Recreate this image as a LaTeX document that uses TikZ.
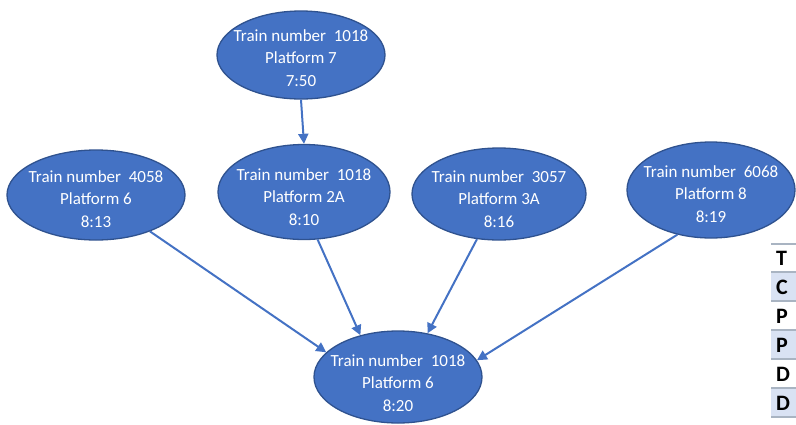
\documentclass[tikz,border=0pt]{standalone}
\usepackage{fontspec}
\setmainfont{Carlito}
\usetikzlibrary{shapes.geometric,arrows.meta,calc}
\definecolor{nodefill}{HTML}{4472C4}
\definecolor{nodeedge}{HTML}{2F528F}
\definecolor{rowfill}{HTML}{D9E2F3}
\definecolor{rowline}{HTML}{A9B4C2}
\tikzset{
  station/.style={ellipse, fill=nodefill, draw=nodeedge, line width=1.3pt, inner sep=0pt},
  info/.style={text=white, align=center, font=\fontsize{17}{22.5}\selectfont},
  link/.style={draw=nodefill, line width=2pt, -{Triangle[length=10pt,width=10pt]}},
  cell/.style={anchor=west, inner sep=0pt, font=\fontsize{22}{24}\selectfont\bfseries},
}
\begin{document}
\begin{tikzpicture}[x=1pt,y=-1pt]
\useasboundingbox (0,0) rectangle (796,424);
\begin{scope}
\clip (0,0) rectangle (796,424);

% stations
\node[station, minimum width=168, minimum height=88,
  label={[info,yshift=-3pt]center:Train number\ \ 1018\\Platform 7\\7:50}] (t1018a) at (301,55) {};
\node[station, minimum width=178, minimum height=90,
  label={[info,yshift=-4pt]center:Train number\ \ 4058\\Platform 6\\8:13}] (t4058) at (96,195) {};
\node[station, minimum width=172, minimum height=95,
  label={[info,yshift=-5pt]center:Train number\ \ 1018\\Platform 2A\\8:10}] (t1018b) at (304,192) {};
\node[station, minimum width=174, minimum height=92,
  label={[info,yshift=-5pt]center:Train number\ \ 3057\\Platform 3A\\8:16}] (t3057) at (499,194) {};
\node[station, minimum width=168, minimum height=96,
  label={[info,yshift=-4pt]center:Train number\ \ 6068\\Platform 8\\8:19}] (t6068) at (711,190) {};
\node[station, minimum width=168, minimum height=92,
  label={[info,yshift=-6pt]center:Train number\ \ 1018\\Platform 6\\8:20}] (t1018c) at (398,377) {};

% connections
\draw[link] (t1018a.south) -- (t1018b.north);
\draw[link] (t4058.-34) -- (t1018c.161);
\draw[link] (t1018b.-74) -- (t1018c.132);
\draw[link] (t3057.-116) -- (t1018c.56);
\draw[link] (t6068.-127) -- (t1018c.12);

% table at the right edge
\fill[rowfill] (771,272) rectangle (800,301);
\fill[rowfill] (771,330) rectangle (800,359);
\fill[rowfill] (771,388) rectangle (800,417);
\foreach \y in {244,272,301,330,359,388,417}
  \draw[rowline, line width=1.2pt] (771,\y) -- (800,\y);
\node[cell] (r1) at (776,258) {T};
\node[cell] (r2) at (776,287) {C};
\node[cell] (r3) at (776,316) {P};
\node[cell] (r4) at (776,345) {P};
\node[cell] (r5) at (776,374) {D};
\node[cell] (r6) at (776,403) {D};
\end{scope}
\end{tikzpicture}
\end{document}
